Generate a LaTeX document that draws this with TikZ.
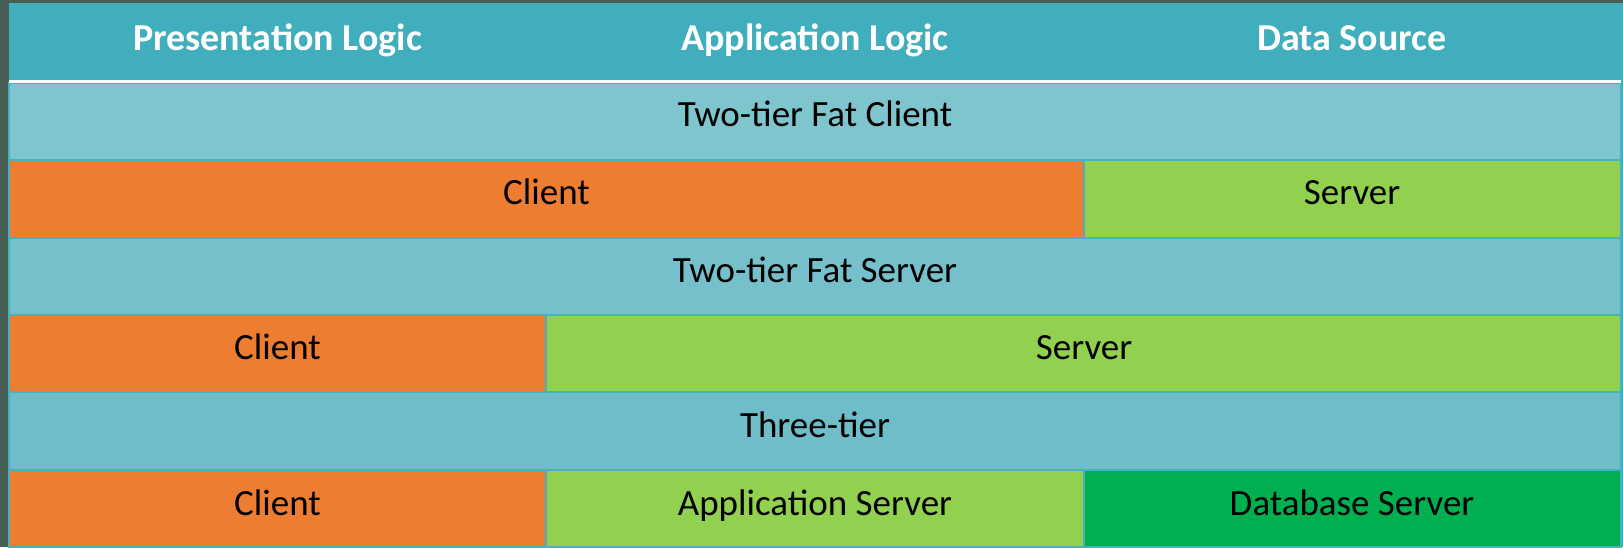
\documentclass[tikz,border=0pt]{standalone}
\usepackage{fontspec}
\setmainfont{Carlito}
\definecolor{bgdark}{HTML}{465E53}
\definecolor{headteal}{HTML}{41AEBE}
\definecolor{gridteal}{HTML}{45B1C1}
\definecolor{bandA}{HTML}{7EC5CD}
\definecolor{bandB}{HTML}{75C0CA}
\definecolor{bandC}{HTML}{6EBDC8}
\definecolor{clientorange}{HTML}{ED7D31}
\definecolor{lightgreen}{HTML}{92D050}
\definecolor{darkgreen}{HTML}{00B050}
\tikzset{
  cell/.style={draw=gridteal, line width=1.8pt},
  headtext/.style={anchor=base, text=white, font=\fontsize{38}{42}\selectfont\bfseries},
  bodytext/.style={anchor=base, text=black, font=\fontsize{37}{41}\selectfont},
}
\begin{document}
\begin{tikzpicture}[x=1pt,y=-1pt]
  % canvas
  \fill[bgdark] (0,0) rectangle (1623,547);
  \useasboundingbox (0,0) rectangle (1623,547);
  % header band
  \fill[headteal] (9,3) rectangle (1623,547);
  \fill[white] (9,80) rectangle (1621,83);
  \node[headtext] (h1) at (277.5,50) {Presentation Logic};
  \node[headtext] (h2) at (815,50) {Application Logic};
  \node[headtext] (h3) at (1352,50) {Data Source};
  % row 1: two-tier fat client caption
  \fill[fill=bandA] (9,83) rectangle (1621,160);
  \node[bodytext] (r1) at (815,126) {Two-tier Fat Client};
  % row 2
  \fill[fill=clientorange] (9,160) rectangle (1084,238);
  \fill[fill=lightgreen] (1084,160) rectangle (1621,238);
  \node[bodytext] (r2a) at (546.5,204) {Client};
  \node[bodytext] (r2b) at (1352,204) {Server};
  % row 3: two-tier fat server caption
  \fill[fill=bandB] (9,238) rectangle (1621,315);
  \node[bodytext] (r3) at (815,282) {Two-tier Fat Server};
  % row 4
  \fill[fill=clientorange] (9,315) rectangle (546,392);
  \fill[fill=lightgreen] (546,315) rectangle (1621,392);
  \node[bodytext] (r4a) at (277.5,359) {Client};
  \node[bodytext] (r4b) at (1084,359) {Server};
  % row 5: three-tier caption
  \fill[fill=bandC] (9,392) rectangle (1621,470);
  \node[bodytext] (r5) at (815,437) {Three-tier};
  % row 6
  \fill[fill=clientorange] (9,470) rectangle (546,547);
  \fill[fill=lightgreen] (546,470) rectangle (1084,547);
  \fill[fill=darkgreen] (1084,470) rectangle (1621,547);
  \node[bodytext] (r6a) at (277.5,515) {Client};
  \node[bodytext] (r6b) at (815,515) {Application Server};
  \node[bodytext] (r6c) at (1352,515) {Database Server};
  % cell outlines
  \draw[cell] (9,83) rectangle (1621,160);
  \draw[cell] (9,160) rectangle (1084,238) (1084,160) rectangle (1621,238);
  \draw[cell] (9,238) rectangle (1621,315);
  \draw[cell] (9,315) rectangle (546,392) (546,315) rectangle (1621,392);
  \draw[cell] (9,392) rectangle (1621,470);
  \draw[cell] (9,470) rectangle (546,547) (546,470) rectangle (1084,547) (1084,470) rectangle (1621,547);
  % white rule under the header, kept on top of the outlines
  \fill[white] (9,80) rectangle (1621,83);
\end{tikzpicture}
\end{document}
